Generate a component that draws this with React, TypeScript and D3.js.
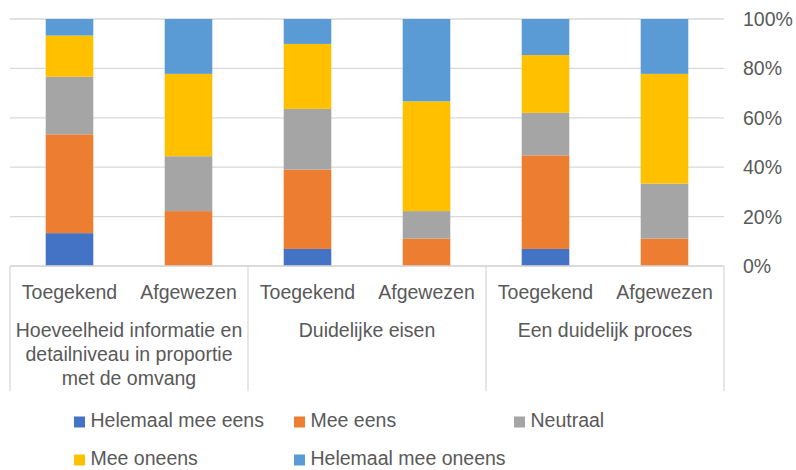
import React, { useEffect, useRef } from 'react'
import * as d3 from 'd3'

// categories (two-level axis)
const groups = [
  ['Hoeveelheid informatie en', 'detailniveau in proportie', 'met de omvang'],
  ['Duidelijke eisen'],
  ['Een duidelijk proces'],
]
const subLabels = ['Toegekend', 'Afgewezen']

// series, bottom to top, one value per bar (%)
const seriesNames = ['Helemaal mee eens', 'Mee eens', 'Neutraal', 'Mee oneens', 'Helemaal mee oneens']
const helemaalMeeEens = [13.3, 0, 6.9, 0, 6.9, 0]
const meeEens = [40.0, 22.2, 32.1, 11.1, 37.9, 11.1]
const neutraal = [23.3, 22.2, 24.6, 11.1, 17.2, 22.2]
const meeOneens = [16.7, 33.3, 26.3, 44.4, 23.4, 44.4]
const helemaalMeeOneens = [6.7, 22.2, 10.1, 33.3, 14.6, 22.2]
const yTicks = [0, 0.2, 0.4, 0.6, 0.8, 1]

const colors = ['#4472C4', '#ED7D31', '#A5A5A5', '#FFC000', '#5B9BD5']

export default function App() {
  const ref = useRef<SVGSVGElement>(null)

  useEffect(() => {
    const svg = d3.select(ref.current)
    svg.selectAll('*').remove()

    const W = 796
    const H = 470
    const left = 10
    const right = 724
    const top = 19
    const bottom = 266
    const font = '"Liberation Sans", Arial, sans-serif'
    const fs = 19.5
    const textColor = '#595959'
    const gridColor = '#D9D9D9'

    /* rows for the stack */
    const allSeries = [helemaalMeeEens, meeEens, neutraal, meeOneens, helemaalMeeOneens]
    const keys = d3.range(groups.length * subLabels.length).map(String)
    const rows = keys.map((k, i) => {
      const r: any = { key: k }
      seriesNames.forEach((s, j) => (r[s] = allSeries[j][i]))
      return r
    })

    const stack = d3.stack().keys(seriesNames).offset(d3.stackOffsetExpand)
    const stacked = stack(rows)

    const x = d3.scaleBand().domain(keys).range([left, right]).paddingInner(0.6).paddingOuter(0.3)
    const y = d3.scaleLinear().domain([0, 1]).range([bottom, top])

    /* gridlines */
    svg.append('g')
      .selectAll('line')
      .data(yTicks)
      .enter()
      .append('line')
      .attr('x1', left)
      .attr('x2', right)
      .attr('y1', (d) => y(d))
      .attr('y2', (d) => y(d))
      .attr('stroke', gridColor)
      .attr('stroke-width', 1.3)

    /* y tick labels on right */
    svg.append('g')
      .selectAll('text')
      .data(yTicks)
      .enter()
      .append('text')
      .attr('x', 743)
      .attr('y', (d) => y(d))
      .attr('dy', '0.36em')
      .attr('font-family', font)
      .attr('font-size', fs)
      .attr('fill', textColor)
      .text((d) => d3.format('.0%')(d))

    /* bars */
    svg.append('g')
      .selectAll('g')
      .data(stacked)
      .enter()
      .append('g')
      .attr('fill', (d, i) => colors[i])
      .selectAll('rect')
      .data((d) => d)
      .enter()
      .append('rect')
      .attr('x', (d: any) => x(d.data.key) as number)
      .attr('width', x.bandwidth())
      .attr('y', (d) => y(d[1]))
      .attr('height', (d) => Math.max(0, y(d[0]) - y(d[1])))

    /* category axis lines */
    const axis = svg.append('g').attr('stroke', gridColor).attr('stroke-width', 1.3)
    axis.append('line').attr('x1', left).attr('x2', right).attr('y1', bottom).attr('y2', bottom)
    const groupW = (right - left) / groups.length
    d3.range(groups.length + 1).forEach((i) => {
      const gx = left + i * groupW
      axis.append('line').attr('x1', gx).attr('x2', gx).attr('y1', bottom).attr('y2', 391)
    })

    /* sub labels */
    svg.append('g')
      .selectAll('text')
      .data(keys)
      .enter()
      .append('text')
      .attr('x', (d) => (x(d) as number) + x.bandwidth() / 2)
      .attr('y', 299)
      .attr('text-anchor', 'middle')
      .attr('font-family', font)
      .attr('font-size', fs)
      .attr('fill', textColor)
      .text((d, i) => subLabels[i % subLabels.length])

    /* group labels */
    groups.forEach((lines, i) => {
      const cx = left + (i + 0.5) * groupW
      lines.forEach((ln, j) => {
        svg.append('text')
          .attr('x', cx)
          .attr('y', 337 + j * 24)
          .attr('text-anchor', 'middle')
          .attr('font-family', font)
          .attr('font-size', fs)
          .attr('fill', textColor)
          .text(ln)
      })
    })

    /* legend */
    const legend = svg.append('g')
    seriesNames.forEach((s, i) => {
      const col = i % 3
      const row = Math.floor(i / 3)
      const lx = 74 + col * 220
      const ly = 427 + row * 38
      legend.append('rect')
        .attr('x', lx)
        .attr('y', ly - 10.5)
        .attr('width', 11)
        .attr('height', 11)
        .attr('fill', colors[i])
      legend.append('text')
        .attr('x', lx + 16.5)
        .attr('y', ly)
        .attr('font-family', font)
        .attr('font-size', fs)
        .attr('fill', textColor)
        .text(s)
    })

    svg.attr('width', W).attr('height', H)
  }, [])

  return (
    <svg
      ref={ref}
      width={796}
      height={470}
      style={{ position: 'absolute', left: 0, top: 0, background: '#fff' }}
    />
  )
}
